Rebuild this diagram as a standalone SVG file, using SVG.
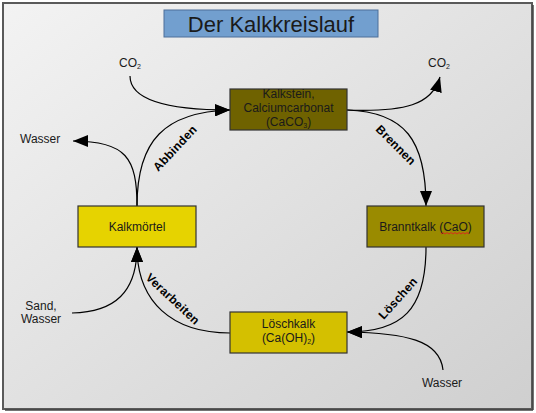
<svg xmlns="http://www.w3.org/2000/svg" width="536" height="413" viewBox="0 0 536 413">
<defs>
<linearGradient id="bg" x1="0" y1="0" x2="1" y2="1">
<stop offset="0" stop-color="#f3f3f3"/>
<stop offset="1" stop-color="#cfcfcf"/>
</linearGradient>
<marker id="ah" markerUnits="userSpaceOnUse" markerWidth="16" markerHeight="12" refX="15" refY="6" orient="auto">
<path d="M0,0 L15,6 L0,12 Z" fill="#000"/>
</marker>
<style>
text{font-family:"Liberation Sans",Arial,sans-serif;fill:#1a1a1a}
.box{stroke:#333;stroke-width:1.2}
.lbl{font-size:12px}
.node{font-size:12px;text-anchor:middle}
.sub{font-size:7px}
.edge{fill:none;stroke:#000;stroke-width:1.2;marker-end:url(#ah)}
.elbl{font-size:12px;font-weight:bold;text-anchor:middle;letter-spacing:0.3px;fill:#000}
</style>
</defs>
<rect x="3" y="3" width="529" height="406" fill="url(#bg)" stroke="#5a5a5a" stroke-width="2"/>
<line x1="533" y1="5" x2="533" y2="410" stroke="#444" stroke-width="1.5"/>
<line x1="5" y1="410" x2="533" y2="410" stroke="#444" stroke-width="1.5"/>

<g id="title">
<rect x="164" y="10" width="214" height="27" fill="#729fcf" stroke="#4d6f99" stroke-width="1"/>
<text x="271" y="32" font-size="22" text-anchor="middle">Der Kalkkreislauf</text>
</g>

<g id="connectors">
<path class="edge" d="M130,76 C130,102 172,110 230,110"/>
<path class="edge" d="M137,206 C137,140 165,112 230,110"/>
<path class="edge" d="M137,206 C137,158 126,141 73,141"/>
<path class="edge" d="M347,110 C405,112 432,105 440,77"/>
<path class="edge" d="M347,110 C405,112 426,140 426,206"/>
<path class="edge" d="M426,247 C426,310 402,332 347,332"/>
<path class="edge" d="M443,370 C440,340 405,333 347,332"/>
<path class="edge" d="M230,333 C172,333 137,302 137,247"/>
<path class="edge" d="M72,313 C115,312 137,292 137,247"/>
</g>

<g id="edge-labels">
<text class="elbl" transform="translate(178,151) rotate(-47)">Abbinden</text>
<text class="elbl" transform="translate(393,148) rotate(45)">Brennen</text>
<text class="elbl" transform="translate(401,301) rotate(-48)">Löschen</text>
<text class="elbl" transform="translate(170,302) rotate(43)">Verarbeiten</text>
</g>

<g id="kalkstein">
<rect class="box" x="230" y="89" width="117" height="41" fill="#6f6200"/>
<text class="node" x="288.5" y="98">Kalkstein,</text>
<text class="node" x="288.5" y="112">Calciumcarbonat</text>
<text class="node" x="288.5" y="126">(CaCO<tspan class="sub" dy="2">3</tspan><tspan dy="-2">)</tspan></text>
</g>

<g id="branntkalk">
<rect class="box" x="367" y="206" width="117" height="41" fill="#9a8b00"/>
<text class="node" x="425.5" y="231">Branntkalk (CaO)</text>
<path d="M441,234 l2,-1.5 l2,1.5 l2,-1.5 l2,1.5 l2,-1.5 l2,1.5 l2,-1.5 l2,1.5 l2,-1.5 l2,1.5 l2,-1.5 l2,1.5 l2,-1.5 l2,1.5" fill="none" stroke="#e02020" stroke-width="0.9"/>
</g>

<g id="kalkmoertel">
<rect class="box" x="78" y="206" width="118" height="41" fill="#e6d300"/>
<text class="node" x="137" y="231">Kalkmörtel</text>
</g>

<g id="loeschkalk">
<rect class="box" x="230" y="312" width="117" height="41" fill="#d4c000"/>
<text class="node" x="288.5" y="328">Löschkalk</text>
<text class="node" x="288.5" y="342">(Ca(OH)<tspan class="sub" dy="2">2</tspan><tspan dy="-2">)</tspan></text>
</g>

<g id="co2-left">
<text class="lbl" x="119" y="67">CO<tspan class="sub" dy="2">2</tspan></text>
</g>
<g id="co2-right">
<text class="lbl" x="428" y="67">CO<tspan class="sub" dy="2">2</tspan></text>
</g>
<g id="wasser-left">
<text class="lbl" x="20" y="143">Wasser</text>
</g>
<g id="sand-wasser">
<text class="lbl" x="41" y="310" text-anchor="middle">Sand,</text>
<text class="lbl" x="41" y="323" text-anchor="middle">Wasser</text>
</g>
<g id="wasser-bottom">
<text class="lbl" x="442" y="387" text-anchor="middle">Wasser</text>
</g>
</svg>
